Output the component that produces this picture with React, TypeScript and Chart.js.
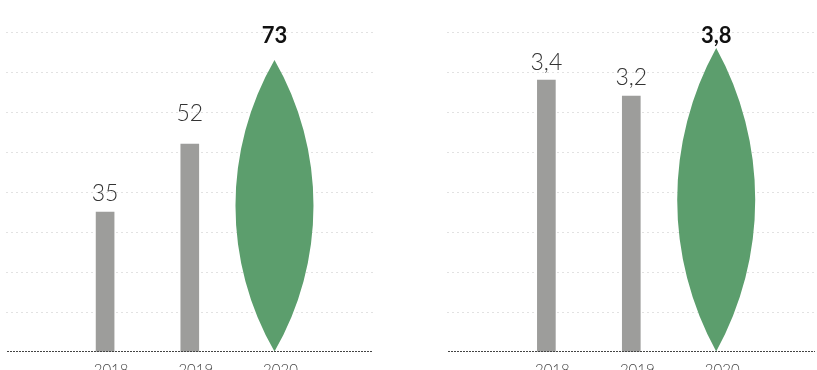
import React, { useEffect, useRef } from 'react';
import { Chart, registerables } from 'chart.js';

Chart.register(...registerables);

// ---- data ----
const years = [2018, 2019, 2020];
const leftValues = [35, 52, 73];
const rightValues = [3.4, 3.2, 3.8];
const leftAxis = [0, 80, 10]; // min, max, step
const rightAxis = [0, 4, 0.5];
const highlightIndex = 2;

const GREY = '#9d9d9b';
const GREEN = '#5c9e6d';
const FONT = 'Lato, "Open Sans", sans-serif';

type PanelProps = {
  values: number[];
  axis: number[];
  decimals: boolean;
  left: number;
  width: number;
  padLeft: number;
  padRight: number;
  labelGaps: number[];
};

const fmt = (v: number, decimals: boolean) =>
  decimals ? v.toFixed(1).replace('.', ',') : String(v);

function Panel({ values, axis, decimals, left, width, padLeft, padRight, labelGaps }: PanelProps) {
  const ref = useRef<HTMLCanvasElement | null>(null);

  useEffect(() => {
    if (!ref.current) return;

    const overlay = {
      id: 'overlay',
      afterDatasetsDraw(chart: any) {
        const ctx = chart.ctx;
        const area = chart.chartArea;
        const yScale = chart.scales.y;
        const y0 = yScale.getPixelForValue(0);
        const meta = chart.getDatasetMeta(0);

        // leaf for highlighted value
        const el = meta.data[highlightIndex];
        if (el) {
          const p = el.getProps(['x', 'y', 'base'], true);
          const h = p.base - p.y;
          const a = 39;
          const R = (a * a + (h / 2) * (h / 2)) / (2 * a);
          const th = Math.asin(h / 2 / R);
          const cy = (p.y + p.base) / 2;
          ctx.save();
          ctx.fillStyle = GREEN;
          ctx.beginPath();
          ctx.moveTo(p.x, p.y);
          ctx.arc(p.x - (R - a), cy, R, -th, th, false);
          ctx.arc(p.x + (R - a), cy, R, Math.PI - th, Math.PI + th, false);
          ctx.closePath();
          ctx.fill();
          ctx.restore();
        }

        // baseline
        ctx.save();
        ctx.strokeStyle = '#444444';
        ctx.lineWidth = 1;
        ctx.setLineDash([2, 1]);
        ctx.beginPath();
        const by = Math.round(y0) - 0.5;
        ctx.moveTo(area.left + 1, by);
        ctx.lineTo(area.right - 1, by);
        ctx.stroke();
        ctx.restore();

        // value labels
        ctx.save();
        ctx.textAlign = 'center';
        ctx.textBaseline = 'alphabetic';
        meta.data.forEach((bar: any, i: number) => {
          const p = bar.getProps(['x', 'y'], true);
          const text = fmt(values[i], decimals);
          if (i === highlightIndex) {
            ctx.font = `bold 22px ${FONT}`;
            ctx.fillStyle = '#111111';
            ctx.fillText(text, p.x, area.top + 11);
          } else {
            ctx.font = `300 23px ${FONT}`;
            ctx.fillStyle = '#333333';
            ctx.fillText(text, p.x, p.y - labelGaps[i]);
          }
        });
        ctx.restore();
      },
    };

    const chart = new Chart(ref.current, {
      type: 'bar',
      data: {
        datasets: [
          {
            data: years.map((x, i) => ({ x, y: values[i] })),
            backgroundColor: years.map((_, i) => (i === highlightIndex ? 'rgba(0,0,0,0)' : GREY)),
            barThickness: 18,
            borderWidth: 0,
          },
        ],
      },
      options: {
        responsive: false,
        animation: false,
        devicePixelRatio: 1,
        layout: { padding: { left: padLeft, right: padRight, top: 32, bottom: 0 } },
        plugins: { legend: { display: false }, tooltip: { enabled: false } },
        scales: {
          x: {
            type: 'linear',
            min: 2016.83,
            max: 2021.175,
            offset: false,
            grid: { display: false, offset: false },
            border: { display: false },
            afterBuildTicks: (scale: any) => {
              scale.ticks = years.map((v) => ({ value: v }));
            },
            afterFit: (scale: any) => {
              scale.height = 48;
            },
            ticks: {
              autoSkip: false,
              maxRotation: 0,
              padding: 1,
              labelOffset: 6,
              color: '#444444',
              font: { family: FONT, size: 15, weight: '300' as any },
              callback: (v: any) => String(v),
            },
          },
          y: {
            min: axis[0],
            max: axis[1],
            grid: {
              drawTicks: false,
              color: (c: any) => (c.tick && c.tick.value === 0 ? 'rgba(0,0,0,0)' : '#e2e2e2'),
              lineWidth: 1,
            },
            border: { display: false, dash: [2, 3] },
            ticks: { display: false, stepSize: axis[2] },
            afterFit: (scale: any) => {
              scale.width = 0;
            },
          },
        },
      },
      plugins: [overlay],
    });

    return () => chart.destroy();
  }, []);

  return (
    <canvas
      ref={ref}
      width={width}
      height={400}
      style={{ position: 'absolute', left, top: 0, width, height: 400 }}
    />
  );
}

export default function App() {
  return (
    <div
      style={{
        position: 'absolute',
        left: 0,
        top: 0,
        width: 817,
        height: 370,
        overflow: 'hidden',
        background: '#ffffff',
      }}
    >
      <Panel
        values={leftValues}
        axis={leftAxis}
        decimals={false}
        left={0}
        width={410}
        padLeft={6}
        padRight={36}
        labelGaps={[11, 23, 0]}
      />
      <Panel
        values={rightValues}
        axis={rightAxis}
        decimals={true}
        left={409}
        width={408}
        padLeft={38}
        padRight={1}
        labelGaps={[10, 11, 0]}
      />
    </div>
  );
}
